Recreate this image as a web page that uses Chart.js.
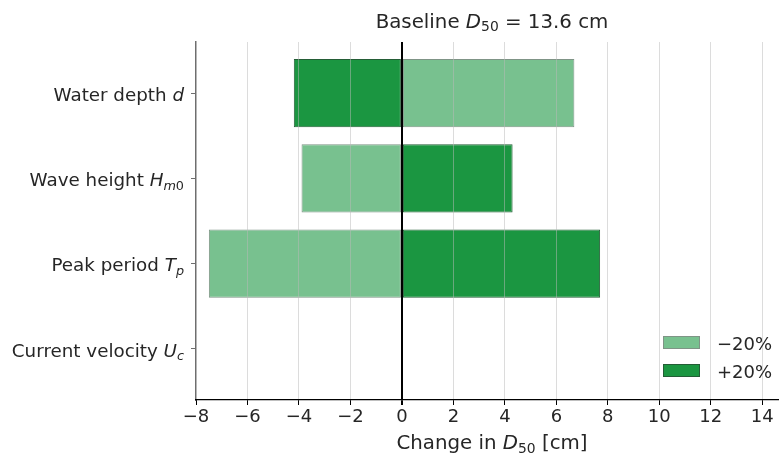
<!DOCTYPE html>
<html>
<head>
<meta charset="utf-8">
<script src="https://cdn.jsdelivr.net/npm/chart.js@4/dist/chart.umd.min.js"></script>
<style>
  body { margin: 0; background: #fff; }
  #chartCanvas { display: block; }
</style>
</head>
<body>
<canvas id="chartCanvas" width="779" height="457"></canvas>
<script>
// data
const categories = ['Water depth $d$', 'Wave height $H_{m0}$', 'Peak period $T_p$', 'Current velocity $U_c$'];
const minus20 = [6.7, -3.9, -7.5, 0];
const plus20 = [-4.2, 4.3, 7.7, 0];
const seriesNames = ['\u221220%', '+20%'];
const xTicks = [-8, -6, -4, -2, 0, 2, 4, 6, 8, 10, 12, 14];
const titleText = 'Baseline $D_{50}$ = 13.6 cm';
const xTitleText = 'Change in $D_{50}$ [cm]';

const FONT = '"DejaVu Sans", sans-serif';
const TEXT = '#262626';
const LIGHT = '#78c18f';
const DARK = '#1b9641';
const LIGHT_EDGE = '#7f9486';
const DARK_EDGE = '#245d36';

// turn "abc $X_{yz}$" into drawable pieces (italic letters, subscripts)
function parseRich(str) {
    const out = [];
    str.split('$').forEach((part, i) => {
        if (!part) return;
        if (i % 2 === 0) { out.push({ t: part }); return; }
        const m = part.match(/^([^_]*)(?:_\{?([^}]*)\}?)?$/);
        const isLetter = c => /[A-Za-z]/.test(c);
        for (const c of m[1]) out.push({ t: c, it: isLetter(c) });
        if (m[2]) for (const c of m[2]) out.push({ t: c, it: isLetter(c), sub: true });
    });
    return out;
}

function segFont(seg, size) {
    const s = seg.sub ? size * 0.7 : size;
    return (seg.it ? 'italic ' : '') + s + 'px ' + FONT;
}

function drawRich(ctx, str, x, y, size, align) {
    const segs = parseRich(str);
    let total = 0;
    segs.forEach(s => { ctx.font = segFont(s, size); s.w = ctx.measureText(s.t).width; total += s.w; });
    let cx = align === 'right' ? x - total : align === 'center' ? x - total / 2 : x;
    ctx.save();
    ctx.fillStyle = TEXT;
    ctx.textAlign = 'left';
    ctx.textBaseline = 'alphabetic';
    segs.forEach(s => {
        ctx.font = segFont(s, size);
        ctx.fillText(s.t, cx, s.sub ? y + size * 0.2 : y);
        cx += s.w;
    });
    ctx.restore();
}

const textPlugin = {
    id: 'richText',
    afterDraw(chart) {
        const ctx = chart.ctx;
        const area = chart.chartArea;
        const xScale = chart.scales.x;
        const yScale = chart.scales.y;
        // the original axes run a little past the right edge of the image (to x = 15)
        const midX = (area.left + xScale.getPixelForValue(15)) / 2;

        drawRich(ctx, titleText, midX, 27.5, 19.8, 'center');
        drawRich(ctx, xTitleText, midX, 449, 19.8, 'center');

        categories.forEach((c, i) => {
            drawRich(ctx, c, area.left - 12, yScale.getPixelForValue(i) + 7.7, 18.3, 'right');
        });

        // legend, lower right inside the axes
        const items = [
            { name: seriesNames[0], fill: LIGHT, edge: LIGHT_EDGE, y: 336 },
            { name: seriesNames[1], fill: DARK, edge: DARK_EDGE, y: 364 }
        ];
        ctx.save();
        items.forEach(it => {
            ctx.fillStyle = it.fill;
            ctx.fillRect(663, it.y, 37, 13);
            ctx.strokeStyle = it.edge;
            ctx.lineWidth = 1;
            ctx.strokeRect(663.5, it.y + 0.5, 36, 12);
            ctx.fillStyle = TEXT;
            ctx.font = '18px ' + FONT;
            ctx.textBaseline = 'alphabetic';
            ctx.fillText(it.name, 717, it.y + 13.5);
        });
        ctx.restore();
    }
};

const canvas = document.getElementById('chartCanvas');
new Chart(canvas.getContext('2d'), {
    type: 'bar',
    data: {
        datasets: [
            {
                label: seriesNames[0],
                data: minus20.map((v, i) => ({ x: v, y: i })),
                backgroundColor: LIGHT,
                borderColor: LIGHT_EDGE,
                borderWidth: 1,
                borderSkipped: false,
                grouped: false
            },
            {
                label: seriesNames[1],
                data: plus20.map((v, i) => ({ x: v, y: i })),
                backgroundColor: DARK,
                borderColor: DARK_EDGE,
                borderWidth: 1,
                borderSkipped: false,
                grouped: false
            }
        ]
    },
    options: {
        indexAxis: 'y',
        responsive: false,
        animation: false,
        events: [],
        categoryPercentage: 0.8,
        barPercentage: 1.0,
        layout: { padding: { top: 42, right: 0, left: 0, bottom: 0 } },
        plugins: {
            legend: { display: false },
            title: { display: false },
            tooltip: { enabled: false }
        },
        scales: {
            x: {
                type: 'linear',
                min: -8,
                max: 14.65,
                afterFit: s => { s.height = 57; },
                afterBuildTicks: s => { s.ticks = xTicks.map(v => ({ value: v })); },
                border: { display: true, color: '#000', width: 1.2, z: 2 },
                grid: {
                    z: 1,
                    color: c => c.tick && c.tick.value === 0 ? '#000' : 'rgba(185,185,185,0.5)',
                    lineWidth: c => c.tick && c.tick.value === 0 ? 2 : 1,
                    tickColor: '#000',
                    tickLength: 5,
                    drawTicks: true
                },
                ticks: {
                    color: TEXT,
                    font: { family: FONT, size: 18 },
                    padding: 2,
                    maxRotation: 0,
                    callback: v => (v < 0 ? '\u2212' + Math.abs(v) : '' + v)
                }
            },
            y: {
                type: 'linear',
                reverse: true,
                offset: false,
                min: -0.6,
                max: 3.6,
                afterFit: s => { s.width = 196; },
                afterBuildTicks: s => { s.ticks = categories.map((_, i) => ({ value: i })); },
                border: { display: true, color: '#6e6e6e', width: 1.5 },
                grid: {
                    offset: false,
                    drawOnChartArea: false,
                    tickColor: '#6e6e6e',
                    tickLength: 5
                },
                ticks: {
                    callback: () => '',
                    font: { family: FONT, size: 18 }
                }
            }
        }
    },
    plugins: [textPlugin]
});
</script>
</body>
</html>
